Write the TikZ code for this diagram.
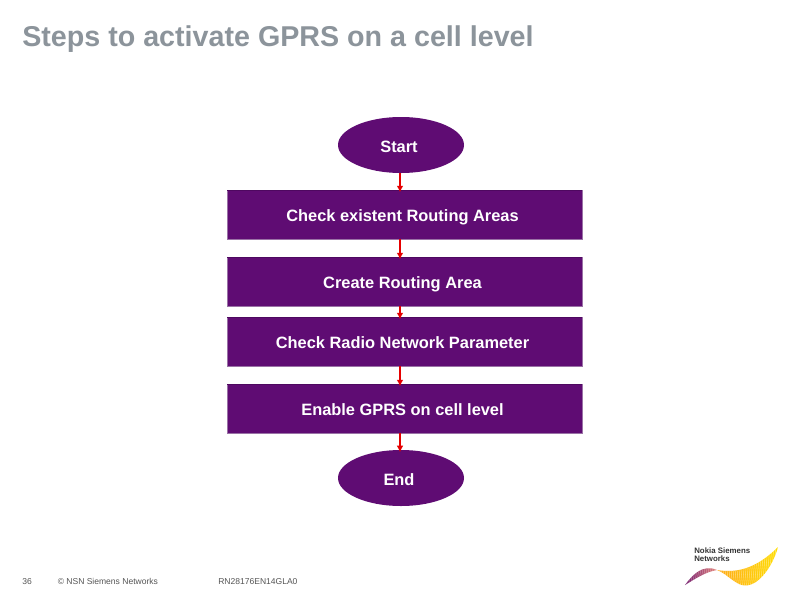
\documentclass[tikz,border=0pt]{standalone}
\usepackage{fontspec}
\setmainfont{Liberation Sans}
\usetikzlibrary{shapes.geometric,arrows.meta}
\definecolor{nsnpurple}{HTML}{5F0C73}
\definecolor{nsndark}{HTML}{4E0860}
\definecolor{nsnedge}{HTML}{9A72A6}
\definecolor{titlegray}{HTML}{8C949B}
\definecolor{footgray}{HTML}{555555}
\tikzset{
  x=0.75pt,y=-0.75pt,
  labelled/.style={text=white,font=\bfseries\fontsize{12.3}{14}\selectfont,text height=11pt,text depth=0.5pt,execute at end node={\hspace{3pt}}},
  procbox/.style={rectangle,labelled,fill=nsnpurple,draw=nsnedge,line width=0.3pt,minimum width=266pt,minimum height=36.75pt,inner sep=0pt},
  terminal/.style={ellipse,labelled,fill=nsnpurple,minimum width=94.5pt,minimum height=42pt,inner sep=0pt},
  flow/.style={draw=red!90!black,line width=1pt,-{Latex[length=5pt,width=5pt]},shorten >=-2pt},
  foot/.style={inner sep=0pt,anchor=base west,text=footgray,font=\fontsize{6.4}{8}\selectfont},
  title/.style={inner sep=0pt,anchor=base west,text=titlegray,font=\bfseries\fontsize{21.5}{25}\selectfont},
  logotext/.style={inner sep=0pt,anchor=west,text=black!80,font=\bfseries\fontsize{5.9}{6.2}\selectfont,align=left}
}
\begin{document}
\begin{tikzpicture}
\useasboundingbox (0,0) rectangle (800,600);
\fill[white] (0,0) rectangle (800,600);
\node[title] (heading) at (22,46.5) {Steps to activate GPRS on a cell level};
\node[terminal] (start) at (401,145) {Start};
\node[procbox] (check) at (404.5,214.5) {Check existent Routing Areas};
\node[procbox] (create) at (404.5,281.5) {Create Routing Area};
\node[procbox] (radio) at (404.5,341.5) {Check Radio Network Parameter};
\node[procbox] (enable) at (404.5,408.5) {Enable GPRS on cell level};
\node[terminal] (stop) at (401,478) {End};
\foreach \b in {check,create,radio,enable}
  \fill[nsndark] (\b.north west) rectangle ([yshift=-1.2pt]\b.north east);
\coordinate (axis) at (400,0);
\draw[flow] (axis |- start.south) -- (axis |- check.north);
\draw[flow] (axis |- check.south) -- (axis |- create.north);
\draw[flow] (axis |- create.south) -- (axis |- radio.north);
\draw[flow] (axis |- radio.south) -- (axis |- enable.north);
\draw[flow] (axis |- enable.south) -- (axis |- stop.north);
\node[foot] (pagenum) at (22,584) {36};
\node[foot] (copy) at (57.5,584) {© NSN Siemens Networks};
\node[foot] (docid) at (218,584) {RN28176EN14GLA0};
\node[logotext] (logo) at (694,554.5) {Nokia Siemens\\Networks};
\begin{scope}
\clip (685,585) .. controls (693,574) and (703,564) .. (717,570) .. controls (705,572) and (695,579) .. (685,585) -- cycle;
\shade[left color=violet!75!black!90,right color=purple!55!orange!60] (683,560) rectangle (719,587);
\foreach \i in {0,2,...,40} \draw[white,opacity=.35,line width=.35pt] (682+\i,590) -- (686+\i,560);
\end{scope}
\begin{scope}
\clip (717,570) .. controls (735,573) and (755,570) .. (778,547) .. controls (773,566) and (756,592) .. (739,584) .. controls (731,580) and (725,573) .. (717,570) -- cycle;
\shade[left color=orange!75!yellow!90,right color=yellow!75!orange] (715,545) rectangle (780,590);
\foreach \i in {0,2,...,70} \draw[white,opacity=.45,line width=.4pt] (712+\i,592) -- (716+\i,545);
\end{scope}
\end{tikzpicture}
\end{document}
